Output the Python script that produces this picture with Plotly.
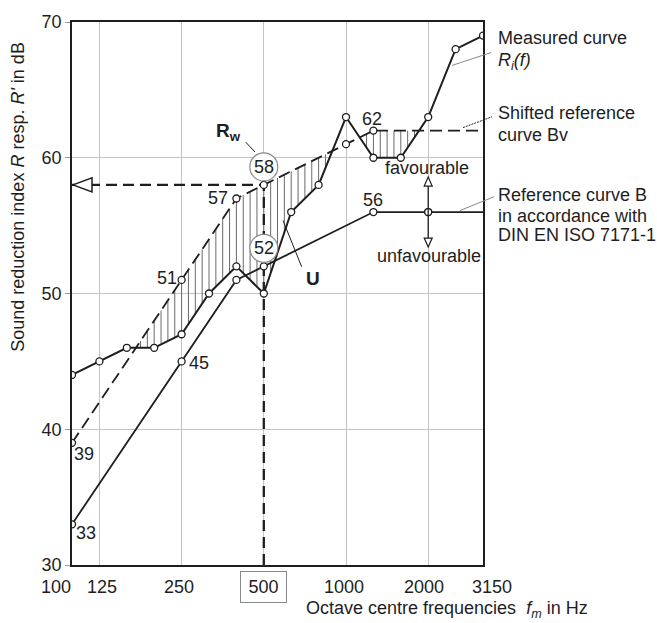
import plotly.graph_objects as go
import numpy as np

# ---------------- data ----------------
bands = [100, 125, 160, 200, 250, 315, 400, 500, 630, 800, 1000, 1250, 1600, 2000, 2500, 3150]
measured = [44, 45, 46, 46, 47, 50, 52, 50, 56, 58, 63, 60, 60, 63, 68, 69]
reference_B = [33, 36, 39, 42, 45, 48, 51, 52, 53, 54, 55, 56, 56, 56, 56, 56]
shift_dB = 6
shifted_Bv = [v + shift_dB for v in reference_B]
tick_bands = [100, 125, 250, 500, 1000, 2000, 3150]
B_marked = [100, 250, 400, 500, 1250, 2000]
Bv_marked = [100, 250, 400, 500, 1000, 1250]
rw_band = 500
rw_value = 58
y_min, y_max = 30, 70

# ---------------- geometry helpers (layout only) ----------------
W, H = 657, 623
PL, PR, PT, PB = 72, 483, 15, 565
def px(xp):
    return (xp - PL) / (PR - PL)
def py(yp):
    return (PB - yp) / (PB - PT)

FONT = "Liberation Sans, Arial, Helvetica, sans-serif"
INK = "#1e1e1e"
FS = 18

idx = {f: i for i, f in enumerate(bands)}
xi = list(range(len(bands)))

fig = go.Figure()

# hatching of unfavourable deviations (measured below shifted reference)
hx = np.arange(0, len(bands) - 1 + 1e-9, 0.25)
m_i = np.interp(hx, xi, measured)
b_i = np.interp(hx, xi, shifted_Bv)
hatch_x, hatch_y = [], []
for x, m, b in zip(hx, m_i, b_i):
    if b - m > 0.15:
        hatch_x += [x, x, None]
        hatch_y += [m, b, None]
fig.add_trace(go.Scatter(x=hatch_x, y=hatch_y, mode="lines",
                         line=dict(color="#6a6a6a", width=1), hoverinfo="skip", showlegend=False))

# shifted reference curve Bv (dashed)
fig.add_trace(go.Scatter(x=xi, y=shifted_Bv, mode="lines",
                         line=dict(color=INK, width=1.8, dash="12px,6px"), showlegend=False))
# reference curve B
fig.add_trace(go.Scatter(x=xi, y=reference_B, mode="lines",
                         line=dict(color=INK, width=1.8), showlegend=False))
# measured curve
fig.add_trace(go.Scatter(x=xi, y=measured, mode="lines",
                         line=dict(color=INK, width=2), showlegend=False))
# Rw construction lines
fig.add_trace(go.Scatter(x=[0, idx[rw_band], idx[rw_band]], y=[rw_value, rw_value, y_min],
                         mode="lines", line=dict(color=INK, width=2.3, dash="11px,6px"),
                         showlegend=False))

mk = dict(size=7, color="white", line=dict(color=INK, width=1.3))
fig.add_trace(go.Scatter(x=xi, y=measured, mode="markers", marker=mk, showlegend=False))
fig.add_trace(go.Scatter(x=[idx[f] for f in B_marked], y=[reference_B[idx[f]] for f in B_marked],
                         mode="markers", marker=mk, showlegend=False))
fig.add_trace(go.Scatter(x=[idx[f] for f in Bv_marked], y=[shifted_Bv[idx[f]] for f in Bv_marked],
                         mode="markers", marker=mk, showlegend=False))

annotations = []
shapes = []

# point value labels (series, band, dx, dy in px)
point_labels = [
    (shifted_Bv, 100, 12, -11),
    (reference_B, 100, 14, -9),
    (reference_B, 250, 17, -2),
    (shifted_Bv, 250, -15, 2),
    (shifted_Bv, 400, -18, 0),
    (reference_B, 1250, 0, 12),
    (shifted_Bv, 1250, -1, 12),
]
for ser, f, dx, dy in point_labels:
    annotations.append(dict(x=idx[f], y=ser[idx[f]], xref="x", yref="y", text=str(ser[idx[f]]),
                            showarrow=False, xshift=dx, yshift=dy,
                            font=dict(size=FS, color=INK, family=FONT)))

# circled values at 500 Hz (Rw and reference value)
for val in [rw_value, reference_B[idx[rw_band]]]:
    shapes.append(dict(type="circle", xref="x", yref="y", xsizemode="pixel", ysizemode="pixel",
                       xanchor=idx[rw_band], yanchor=val, x0=-14, x1=14, y0=4, y1=32,
                       line=dict(color="#8a8a8a", width=1.2), fillcolor="white", layer="above"))
    annotations.append(dict(x=idx[rw_band], y=val, xref="x", yref="y", text=str(val),
                            showarrow=False, yshift=18, font=dict(size=FS, color=INK, family=FONT)))

# left arrow head at Rw on the y axis
shapes.append(dict(type="path", xref="x", yref="y", xsizemode="pixel", ysizemode="pixel",
                   xanchor=0, yanchor=rw_value, path="M 1,0 L 20,7 L 20,-7 Z",
                   line=dict(color=INK, width=1.5), fillcolor="white", layer="above"))

# favourable / unfavourable arrow at 2000 Hz
fa = idx[2000]
fv = reference_B[fa]
shapes.append(dict(type="path", xref="x", yref="y", xsizemode="pixel", ysizemode="pixel",
                   xanchor=fa, yanchor=fv, path="M 0,26 L 0,-26",
                   line=dict(color=INK, width=1.3), layer="above"))
shapes.append(dict(type="path", xref="x", yref="y", xsizemode="pixel", ysizemode="pixel",
                   xanchor=fa, yanchor=fv, path="M -4,26 L 4,26 L 0,35 Z",
                   line=dict(color=INK, width=1.2), fillcolor="white", layer="above"))
shapes.append(dict(type="path", xref="x", yref="y", xsizemode="pixel", ysizemode="pixel",
                   xanchor=fa, yanchor=fv, path="M -4,-26 L 4,-26 L 0,-35 Z",
                   line=dict(color=INK, width=1.2), fillcolor="white", layer="above"))
fig.add_trace(go.Scatter(x=[fa], y=[fv], mode="markers", marker=mk, showlegend=False))

def text_px(x, y, t, size=FS, xanchor="center", bold=False):
    annotations.append(dict(x=px(x), y=py(y), xref="paper", yref="paper", text=t,
                            showarrow=False, xanchor=xanchor, yanchor="middle",
                            font=dict(size=size, color=INK, family=FONT)))

def line_px(x0, y0, x1, y1, color=INK, width=1, dash="solid"):
    shapes.append(dict(type="line", xref="paper", yref="paper",
                       x0=px(x0), y0=py(y0), x1=px(x1), y1=py(y1),
                       line=dict(color=color, width=width, dash=dash), layer="above"))

# labels Rw and U
text_px(228, 126, "<b>R</b><sub><b>w</b></sub>", size=19)
line_px(245.7, 136.7, 255, 146.7, width=1)
text_px(313, 275, "<b>U</b>", size=19)
line_px(301.7, 263, 283, 216, width=1)

# favourable / unfavourable
text_px(427, 163, "favourable")
text_px(429, 252, "unfavourable")

# right-hand legend texts
LX = 496
text_px(LX, 31, "Measured curve", xanchor="left")
text_px(LX, 55, "<i>R</i><sub><i>i</i></sub><i>(f)</i>", xanchor="left")
line_px(452, 59, 491, 46, color="#8a8a8a", width=1)
text_px(LX, 107, "Shifted reference", xanchor="left")
text_px(LX, 129, "curve Bv", xanchor="left")
line_px(463, 122, 492, 111, color=INK, width=1, dash="2px,1px")
text_px(LX, 190, "Reference curve B", xanchor="left")
text_px(LX, 211, "in accordance with", xanchor="left")
text_px(LX, 231, "DIN EN ISO 7171-1", xanchor="left")
line_px(460, 206, 494, 192, color="#8a8a8a", width=1)

# x tick labels
tick_shift = {100: -16, 125: 3, 250: -3, 500: 0, 1000: -2, 2000: -4, 3150: 9}
for f in tick_bands:
    a = dict(x=idx[f], y=py(587), xref="x", yref="paper", text=str(f), showarrow=False,
             xshift=tick_shift[f], yanchor="middle", font=dict(size=FS, color=INK, family=FONT))
    if f == rw_band:
        a.update(bordercolor="#8a8a8a", borderwidth=1, borderpad=4, width=37, height=22)
    annotations.append(a)

# axis titles
text_px(447, 610, "Octave centre frequencies  <i>f</i><sub><i>m</i></sub> in Hz")
annotations.append(dict(x=px(18), y=py(192), xref="paper", yref="paper",
                        text="Sound reduction index <i>R</i> resp. <i>R'</i> in dB",
                        textangle=-90, showarrow=False, xanchor="center", yanchor="middle",
                        font=dict(size=FS, color=INK, family=FONT)))

fig.update_layout(
    width=W, height=H,
    margin=dict(l=PL, r=W - PR, t=PT, b=H - PB, pad=0),
    paper_bgcolor="white", plot_bgcolor="white",
    font=dict(family=FONT, size=FS, color=INK),
    showlegend=False,
    annotations=annotations, shapes=shapes,
    xaxis=dict(range=[0, len(bands) - 1], tickvals=[idx[f] for f in tick_bands],
               showticklabels=False, ticks="", showgrid=True, gridcolor="#c4c4c4", gridwidth=1,
               showline=True, mirror=True, linecolor=INK, linewidth=1.8, zeroline=False,
               fixedrange=True),
    yaxis=dict(range=[y_min, y_max], dtick=10, tick0=30, ticks="outside", ticklen=5,
               tickcolor="#9a9a9a", tickfont=dict(size=FS, color=INK, family=FONT),
               showgrid=True, gridcolor="#c4c4c4", gridwidth=1,
               showline=True, mirror=True, linecolor=INK, linewidth=1.8, zeroline=False,
               fixedrange=True),
)

fig.write_html("out.html")
